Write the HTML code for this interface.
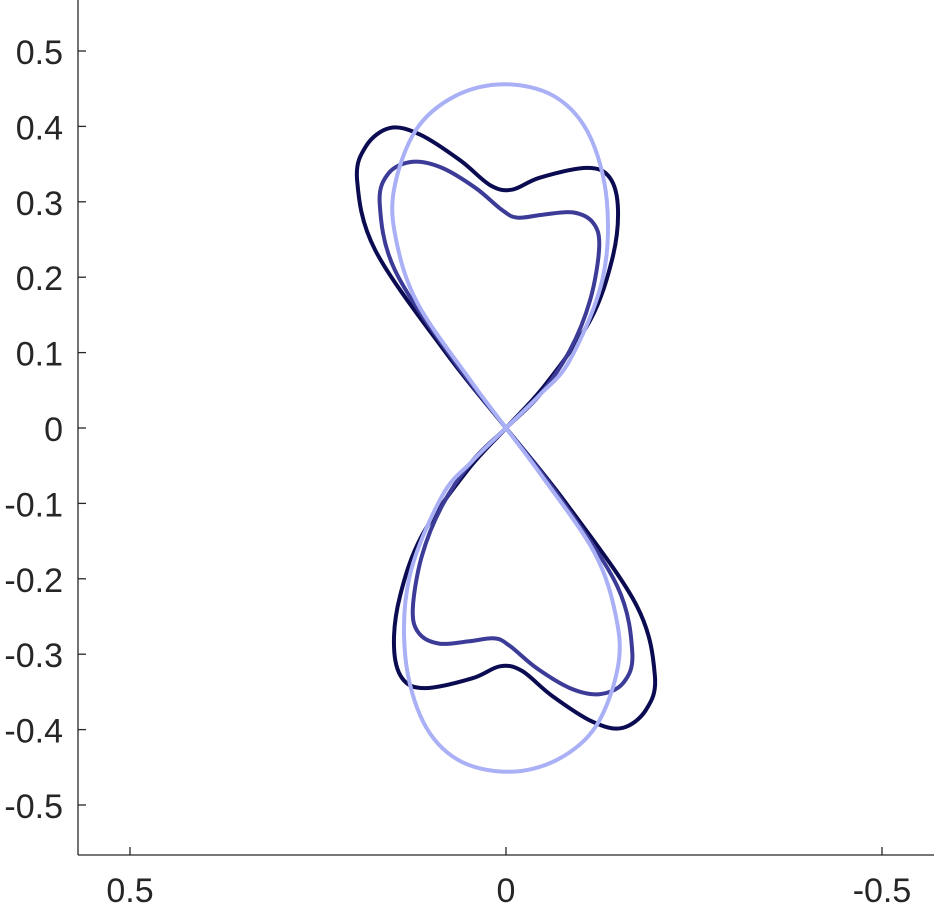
<!DOCTYPE html>
<html><head><meta charset="utf-8"><style>
html,body{margin:0;padding:0;background:#fff;}
svg{display:block;font-family:"Liberation Sans",sans-serif;}
</style></head><body>
<svg id="chart" width="934" height="905" viewBox="0 0 934 905" xmlns="http://www.w3.org/2000/svg">
<g id="axes"></g>
<g id="curves"></g>
</svg>
<script>
const xTicks=[0.5,0,-0.5];
const xTickLabels=["0.5","0","-0.5"];
const yTicks=[-0.5,-0.4,-0.3,-0.2,-0.1,0,0.1,0.2,0.3,0.4,0.5];
const yTickLabels=["-0.5","-0.4","-0.3","-0.2","-0.1","0","0.1","0.2","0.3","0.4","0.5"];
const seriesNames=["dark-curve","medium-curve","light-curve"];
const seriesColors=["#0b0b52","#3c3c98","#aab0f6"];
const darkCurve=[[0,0],[0.080,0.100],[0.174,0.236],[0.198,0.329],[0.186,0.374],[0.154,0.398],[0.114,0.389],[0.061,0.355],[0.021,0.322],[-0.008,0.316],[-0.045,0.332],[-0.108,0.345],[-0.138,0.332],[-0.149,0.289],[-0.141,0.223],[-0.112,0.143],[-0.052,0.057],
[0,0],[0.052,-0.057],[0.112,-0.143],[0.141,-0.223],[0.149,-0.289],[0.138,-0.332],[0.108,-0.345],[0.045,-0.332],[0.008,-0.316],[-0.021,-0.322],[-0.061,-0.355],[-0.114,-0.389],[-0.154,-0.398],[-0.186,-0.374],[-0.198,-0.329],[-0.174,-0.236],[-0.080,-0.100]];
const mediumCurve=[[0,0],[0.070,0.090],[0.148,0.210],[0.168,0.298],[0.156,0.338],[0.124,0.353],[0.085,0.345],[0.040,0.318],[0.005,0.289],[-0.015,0.279],[-0.050,0.283],[-0.089,0.286],[-0.116,0.272],[-0.124,0.240],[-0.112,0.170],[-0.085,0.103],[-0.045,0.044],
[0,0],[0.045,-0.044],[0.085,-0.103],[0.112,-0.170],[0.124,-0.240],[0.116,-0.272],[0.089,-0.286],[0.050,-0.283],[0.015,-0.279],[-0.005,-0.289],[-0.040,-0.318],[-0.085,-0.345],[-0.124,-0.353],[-0.156,-0.338],[-0.168,-0.298],[-0.148,-0.210],[-0.070,-0.090]];
const lightCurve=[[0,0],[0.048,0.064],[0.118,0.166],[0.146,0.249],[0.149,0.316],[0.120,0.395],[0.068,0.440],[0.003,0.456],[-0.064,0.440],[-0.110,0.390],[-0.134,0.302],[-0.128,0.196],[-0.085,0.090],[-0.045,0.044],
[0,0],[0.045,-0.044],[0.085,-0.090],[0.128,-0.196],[0.134,-0.302],[0.110,-0.390],[0.064,-0.440],[-0.003,-0.456],[-0.068,-0.440],[-0.120,-0.395],[-0.149,-0.316],[-0.146,-0.249],[-0.118,-0.166],[-0.048,-0.064]];
const seriesData=[darkCurve,mediumCurve,lightCurve];

const NS="http://www.w3.org/2000/svg";
const L=78,R=934,T=0,B=855;
function xs(v){return 506-v*752;}
function ys(v){return 428-v*754;}
function mk(tag,attrs,parent){const e=document.createElementNS(NS,tag);for(const k in attrs)e.setAttribute(k,attrs[k]);parent.appendChild(e);return e;}
const axes=document.getElementById('axes');
let yl=mk('line',{x1:L,y1:T,x2:L,y2:B,stroke:'#262626','stroke-width':1.3},axes);


let xl=mk('line',{x1:L,y1:B,x2:R,y2:B,stroke:'#262626','stroke-width':1.3},axes);


yTicks.forEach((v,i)=>{
  const y=ys(v);
  const t=mk('line',{x1:L,y1:y,x2:L+8,y2:y,stroke:'#262626','stroke-width':1.3},axes);
  
  
  const tx=mk('text',{x:L-15,y:y+13,'text-anchor':'end','font-size':34,fill:'#262626'},axes);
  tx.textContent=yTickLabels[i];
  
  
});
xTicks.forEach((v,i)=>{
  const x=xs(v);
  const t=mk('line',{x1:x,y1:B,x2:x,y2:B-8,stroke:'#262626','stroke-width':1.3},axes);
  
  
  const tx=mk('text',{x:x,y:902,'text-anchor':'middle','font-size':34,fill:'#262626'},axes);
  tx.textContent=xTickLabels[i];
  
  
});
function closedPath(pts){
  const p=pts.map(d=>[xs(d[0]),ys(d[1])]);const n=p.length;
  let s='M'+p[0][0]+','+p[0][1];
  for(let i=0;i<n;i++){
    const p0=p[(i-1+n)%n],p1=p[i],p2=p[(i+1)%n],p3=p[(i+2)%n];
    const c1=[p1[0]+(p2[0]-p0[0])/6,p1[1]+(p2[1]-p0[1])/6];
    const c2=[p2[0]-(p3[0]-p1[0])/6,p2[1]-(p3[1]-p1[1])/6];
    s+=`C${c1[0].toFixed(1)},${c1[1].toFixed(1)} ${c2[0].toFixed(1)},${c2[1].toFixed(1)} ${p2[0].toFixed(1)},${p2[1].toFixed(1)}`;
  }
  return s+'Z';
}
const cg=document.getElementById('curves');
seriesData.forEach((d,i)=>{
  const path=mk('path',{d:closedPath(d),fill:'none',stroke:seriesColors[i],'stroke-width':4,'stroke-linejoin':'round'},cg);
  
  
});
</script>
</body></html>
